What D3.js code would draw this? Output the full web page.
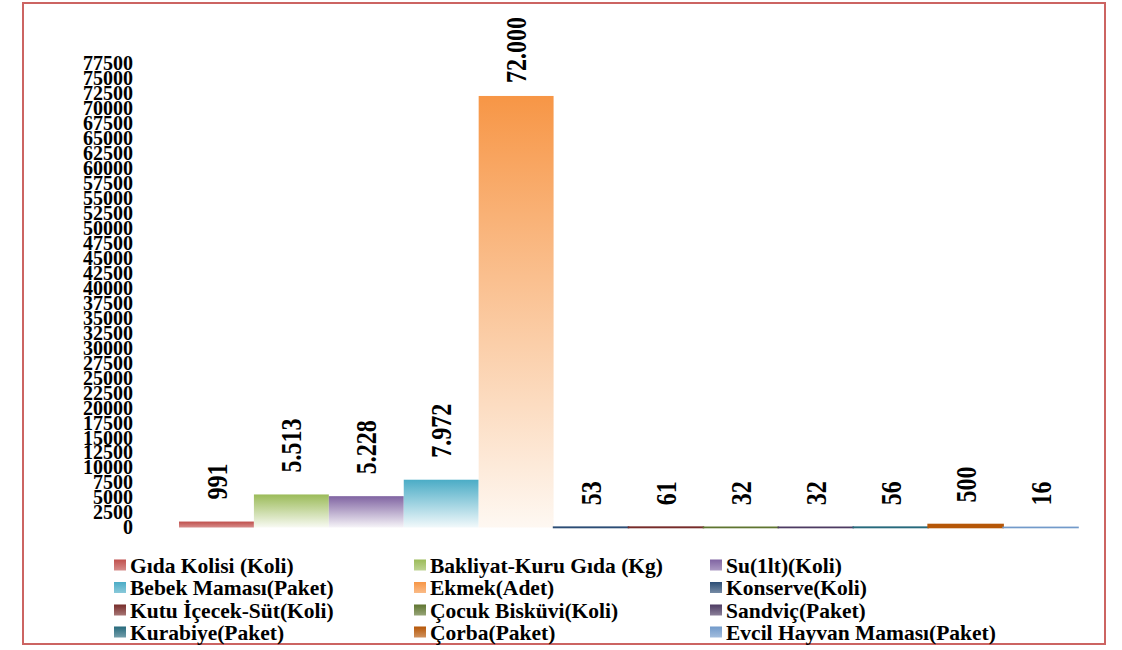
<!DOCTYPE html>
<html>
<head>
<meta charset="utf-8">
<script src="https://cdn.jsdelivr.net/npm/d3@7"></script>
<style>
  html, body { margin: 0; padding: 0; background: #fff; }
  svg { display: block; }
</style>
</head>
<body>
<svg id="chart" width="1122" height="650"></svg>
<script>
const categories = [
  "Gıda Kolisi (Koli)", "Bakliyat-Kuru Gıda (Kg)", "Su(1lt)(Koli)",
  "Bebek Maması(Paket)", "Ekmek(Adet)", "Konserve(Koli)",
  "Kutu İçecek-Süt(Koli)", "Çocuk Bisküvi(Koli)", "Sandviç(Paket)",
  "Kurabiye(Paket)", "Çorba(Paket)", "Evcil Hayvan Maması(Paket)"
];
const values = [991, 5513, 5228, 7972, 72000, 53, 61, 32, 32, 56, 500, 16];
const colors = [
  "#c0504d", "#9bbb59", "#8064a2", "#4bacc6", "#f79646", "#2c4d75",
  "#772c2a", "#5f7530", "#4d3b62", "#276a7c", "#b65708", "#729aca"
];
const yTicks = [0, 2500, 5000, 7500, 10000, 12500, 15000, 17500, 20000, 22500,
  25000, 27500, 30000, 32500, 35000, 37500, 40000, 42500, 45000, 47500, 50000,
  52500, 55000, 57500, 60000, 62500, 65000, 67500, 70000, 72500, 75000, 77500];

const FONT = "'Liberation Serif', 'Times New Roman', serif";
const svg = d3.select("#chart");

// outer border
svg.append("rect").attr("x", 23).attr("y", 3).attr("width", 1082).attr("height", 641)
  .attr("fill", "#fff").attr("stroke", "#cc6462").attr("stroke-width", 2);

const x = d3.scaleBand().domain(categories).range([179, 1078]).padding(0);
const y = d3.scaleLinear().domain([0, 77500]).range([527.5, 63]);

const tr = d3.formatLocale({decimal: ",", thousands: ".", grouping: [3], currency: ["", ""]});
const fmt = tr.format(",");

// gradients
const defs = svg.append("defs");
colors.forEach((c, i) => {
  const g = defs.append("linearGradient").attr("id", "g" + i)
    .attr("x1", 0).attr("y1", 0).attr("x2", 0).attr("y2", 1);
  g.append("stop").attr("offset", "0%").attr("stop-color", c);
  g.append("stop").attr("offset", "100%").attr("stop-color", d3.interpolateRgb(c, "#ffffff")(0.93));
  const lg = defs.append("linearGradient").attr("id", "lg" + i)
    .attr("x1", 0).attr("y1", 0).attr("x2", 0).attr("y2", 1);
  lg.append("stop").attr("offset", "0%").attr("stop-color", c);
  lg.append("stop").attr("offset", "100%").attr("stop-color", d3.interpolateRgb(c, "#ffffff")(0.35));
});

// y axis
const yAxis = d3.axisLeft(y).tickValues(yTicks).tickSize(0).tickPadding(0)
  .tickFormat(d => String(d));
const ga = svg.append("g").attr("transform", "translate(133,0)").call(yAxis);
ga.select(".domain").remove();
ga.attr("font-family", null).attr("font-size", null);
ga.selectAll("text").style("font-family", FONT)
  .style("font-weight", "bold").style("font-size", "20px").style("fill", "#000");

// bars
const data = categories.map((c, i) => ({c, v: values[i], i}));
svg.append("g").selectAll("rect").data(data).join("rect")
  .attr("x", d => x(d.c))
  .attr("width", x.bandwidth())
  .attr("y", d => y(d.v))
  .attr("height", d => y(0) - y(d.v))
  .attr("fill", d => (y(0) - y(d.v)) > 4 ? `url(#${(y(0) - y(d.v)) > 20 ? "g" : "lg"}${d.i})` : colors[d.i])
  .attr("stroke", d => (y(0) - y(d.v)) > 4 ? "none" : colors[d.i])
  .attr("stroke-width", 1.6);

// data labels
const lbl = svg.append("g").selectAll("g").data(data).join("g");
lbl.each(function(d) {
  const g = d3.select(this);
  const t = g.append("text").text(fmt(d.v))
    .style("font-family", FONT).style("font-weight", "bold")
    .style("font-size", "24px").style("fill", "#000")
    .attr("text-anchor", "start").attr("dy", "0.35em");
  const len = t.node().getComputedTextLength();
  const bottom = Math.max(y(d.v) - 22, 17 + len);
  g.attr("transform", `translate(${x(d.c) + x.bandwidth() / 2},${bottom}) rotate(-90) scale(1,1.2)`);
});

// legend
const colX = [114, 414, 710];
const rowY = [565, 587.5, 610, 632];
const leg = svg.append("g").selectAll("g").data(data).join("g")
  .attr("transform", d => `translate(${colX[d.i % 3]},${rowY[Math.floor(d.i / 3)]})`);
leg.append("rect").attr("x", 0).attr("y", -5.5).attr("width", 12).attr("height", 11)
  .attr("fill", d => `url(#lg${d.i})`);
leg.append("text").attr("x", 16).attr("dy", "0.35em")
  .style("font-family", FONT).style("font-weight", "bold")
  .style("font-size", "21.5px").style("fill", "#000")
  .text(d => d.c);
</script>
</body>
</html>
